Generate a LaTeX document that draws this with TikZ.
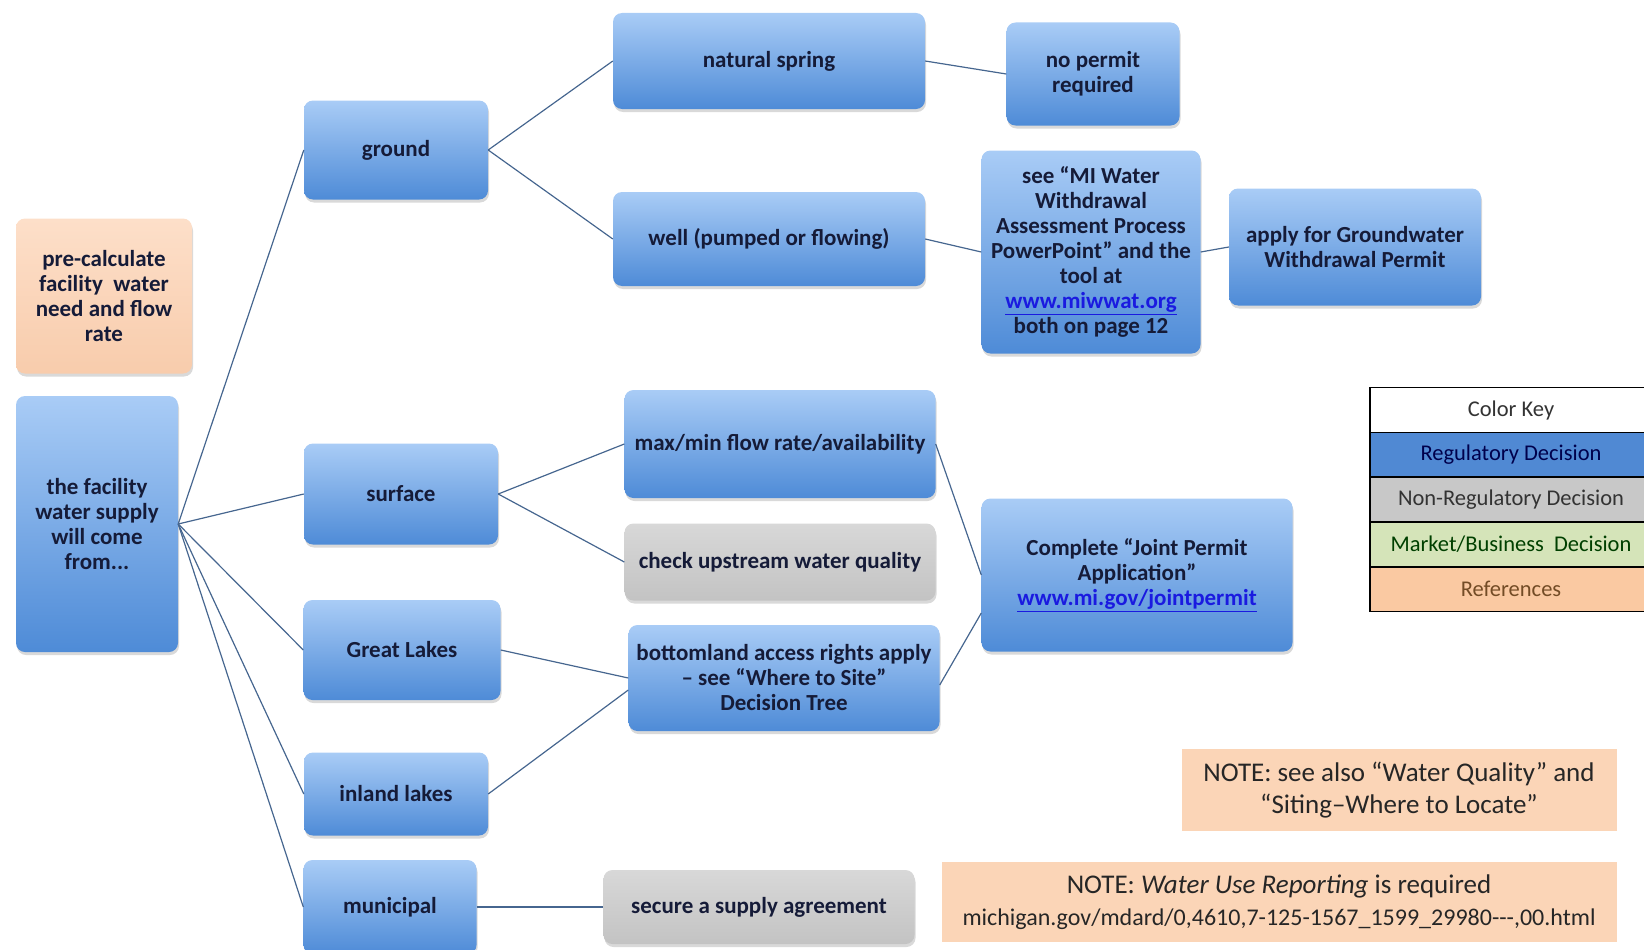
\documentclass[tikz,border=0pt]{standalone}
\usepackage{fontspec}
\setmainfont{Carlito}
\usetikzlibrary{positioning}
\usetikzlibrary{shadows}

\definecolor{bluetop}{HTML}{A9CCF6}
\definecolor{bluebot}{HTML}{4E8BD7}
\definecolor{graytop}{HTML}{D8D8D8}
\definecolor{graybot}{HTML}{C3C3C3}
\definecolor{peachtop}{HTML}{FDDFC9}
\definecolor{peachbot}{HTML}{F8CCAC}
\definecolor{peach}{HTML}{FBD5B7}
\definecolor{boxtext}{HTML}{151B38}
\definecolor{notetext}{HTML}{262626}
\definecolor{wirecol}{HTML}{46668F}
\definecolor{linkblue}{HTML}{1A1AE0}
\definecolor{keyblue}{HTML}{5089D3}
\definecolor{keygray}{HTML}{C8C8C8}
\definecolor{keygreen}{HTML}{D5E4B9}
\definecolor{keypeach}{HTML}{FAC9A2}

\newcommand{\weblink}[1]{{\color{linkblue}\underline{#1}}}

\begin{document}
\begin{tikzpicture}
[x=1pt,y=-1pt,%
  every node/.style={align=center,text=boxtext,font=\fontsize{23}{25}\selectfont\bfseries},%
  decision/.style={rounded corners=9pt,top color=bluetop,bottom color=bluebot,%
    drop shadow={shadow xshift=1pt,shadow yshift=-3pt,opacity=.3}},%
  nonreg/.style={decision,top color=graytop,bottom color=graybot},%
  reference/.style={decision,top color=peachtop,bottom color=peachbot},%
  note/.style={fill=peach,text=notetext,font=\fontsize{27}{32.5}\selectfont},%
  keyrow/.style={draw=black,line width=1.5pt,outer sep=0pt,minimum width=282,%
    minimum height=44.8,font=\fontsize{22.5}{24}\selectfont},%
  wire/.style={-,line width=1.2pt,wirecol}]
\path[use as bounding box,clip] (0,0) rectangle (1644,950);

% first column
\node[reference,minimum width=176,minimum height=155] (precalc) at (104,296)
  {pre-calculate\\facility\ \ water\\need and flow\\rate};
\node[decision,minimum width=162,minimum height=256] (supply) at (97,524)
  {the facility\\water supply\\will come\\from...};

% sources
\node[decision,minimum width=184,minimum height=99] (ground) at (396,150) {ground};
\node[decision,minimum width=194,minimum height=101] (surface) at (401,494) {surface};
\node[decision,minimum width=197,minimum height=100] (lakes) at (402,650) {Great Lakes};
\node[decision,minimum width=184,minimum height=83] (inland) at (396,794) {inland lakes};
\node[decision,minimum width=173,minimum height=94] (municipal) at (390,907) {municipal};

% third column
\node[decision,minimum width=312,minimum height=96] (spring) at (769,61) {natural spring};
\node[decision,minimum width=312,minimum height=94] (well) at (769,239) {well (pumped or flowing)};
\node[decision,minimum width=311,minimum height=108] (flow) at (780,444)
  {max/min flow rate/availability};
\node[nonreg,minimum width=311,minimum height=77] (quality) at (780,562)
  {check upstream water quality};
\node[decision,minimum width=311,minimum height=106] (bottom) at (784,678)
  {bottomland access rights apply\\– see “Where to Site”\\Decision Tree};
\node[nonreg,minimum width=311,minimum height=74] (agree) at (759,907)
  {secure a supply agreement};

% permits
\node[decision,minimum width=173,minimum height=103] (nopermit) at (1093,74)
  {no permit\\required};
\node[decision,minimum width=219,minimum height=203] (assess) at (1091,252)
  {see “MI Water\\Withdrawal\\Assessment Process\\PowerPoint” and the\\tool at\\%
   \weblink{www.miwwat.org}\\both on page 12};
\node[decision,minimum width=252,minimum height=117] (apply) at (1355,247)
  {apply for Groundwater\\Withdrawal Permit};
\node[decision,minimum width=311,minimum height=153] (joint) at (1137,575)
  {Complete “Joint Permit\\Application”\\\weblink{www.mi.gov/jointpermit}};

% color key
\node[keyrow,fill=white,text=black!80] (key) at (1511,410) {Color Key};
\node[keyrow,fill=keyblue,text=blue!30!black,below=0pt of key] (keyreg) {Regulatory Decision};
\node[keyrow,fill=keygray,text=black!80,below=0pt of keyreg] (keynonreg) {Non-Regulatory Decision};
\node[keyrow,fill=keygreen,text=green!25!black,below=0pt of keynonreg] (keymarket)
  {Market/Business\ \ Decision};
\node[keyrow,fill=keypeach,text=brown!60!black,below=0pt of keymarket] (keyref) {References};

% notes
\node[note,minimum width=435,minimum height=82] (seealso) at (1399,790)
  {NOTE: see also “Water Quality” and\\“Siting–Where to Locate”};
\node[note,minimum width=675,minimum height=80] (reporting) at (1279,902)
  {NOTE: \textit{Water Use Reporting} is required\\%
   {\fontsize{24}{29}\selectfont michigan.gov/mdard/0,4610,7-125-1567\_1599\_29980-{}-{}-,00.html}};

% connectors
\foreach \src in {ground,surface,lakes,inland,municipal}
  \draw[wire] (supply.east) -- (\src.west);
\draw[wire] (ground.east) -- (spring.west);
\draw[wire] (ground.east) -- (well.west);
\draw[wire] (spring.east) -- (nopermit.west);
\draw[wire] (well.east) -- (assess.west);
\draw[wire] (assess.east) -- (apply.west);
\draw[wire] (surface.east) -- (flow.west);
\draw[wire] (surface.east) -- (quality.west);
\draw[wire] (flow.east) -- (joint.west);
\draw[wire] (lakes.east) -- (bottom.west);
\draw[wire] (inland.east) -- ([yshift=-12pt]bottom.west);
\draw[wire] ([yshift=-7pt]bottom.east) -- ([yshift=-38pt]joint.west);
\draw[wire] (municipal.east) -- (agree.west);
\end{tikzpicture}
\end{document}
